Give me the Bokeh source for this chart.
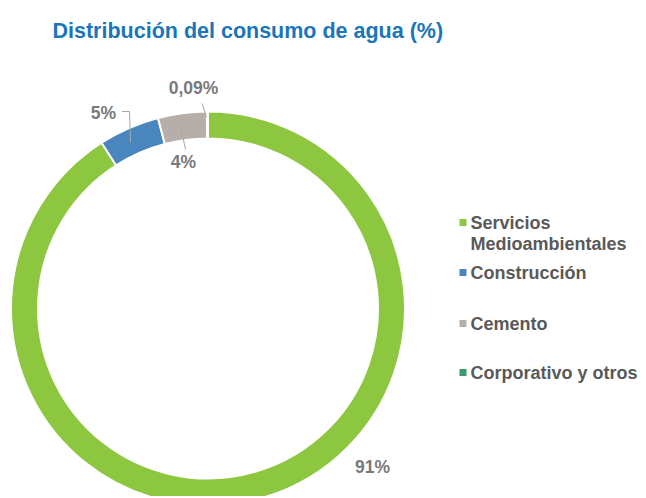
import numpy as np
from bokeh.plotting import figure
from bokeh.models import ColumnDataSource, Range1d
from bokeh.core.properties import value
from bokeh.embed import file_html
from bokeh.resources import INLINE

# ---- data ----
categories = ["Servicios Medioambientales", "Construcción", "Cemento", "Corporativo y otros"]
values = [91, 5, 4, 0.09]
colors = ["#8dc63f", "#4a86be", "#b6aea8", "#3c9a6c"]
pct_labels = ["91%", "5%", "4%", "0,09%"]
legend_lines = [["Servicios", "Medioambientales"], ["Construcción"], ["Cemento"], ["Corporativo y otros"]]
title_text = "Distribución del consumo de agua (%)"

# ---- layout helpers (screen px -> data) ----
W, H = 640, 496
def sx(x):
    return x
def sy(y):
    return H - y

FONT = value("Liberation Sans")

p = figure(width=W, height=H, x_range=Range1d(0, W), y_range=Range1d(0, H),
           output_backend="svg", toolbar_location=None, min_border=0)
p.axis.visible = False
p.grid.visible = False
p.outline_line_color = None
p.background_fill_color = "white"

# donut
v = np.array(values, dtype=float)
frac = v / v.sum()
cum = np.concatenate([[0.0], np.cumsum(frac)])
start = np.pi / 2 - cum[1:] * 2 * np.pi
end = np.pi / 2 - cum[:-1] * 2 * np.pi
src = ColumnDataSource(dict(start=start, end=end, color=colors, cat=categories))
cx, cy = sx(207.5), sy(308)
p.annular_wedge(x=cx, y=cy, inner_radius=170, outer_radius=197,
                inner_radius_units="screen", outer_radius_units="screen",
                start_angle="start", end_angle="end", fill_color="color",
                line_color="white", line_width=2, source=src)

# leader lines
lead_col = "#a6a6a6"
p.line([sx(201.7), sx(206)], [sy(103), sy(117)], line_color=lead_col, line_width=1)
p.line([sx(121.5), sx(129), sx(130)], [sy(111), sy(111), sy(142)], line_color=lead_col, line_width=1)
p.line([sx(185), sx(180)], [sy(149), sy(125)], line_color=lead_col, line_width=1)

# data labels
lab_pos = [(372, 466), (103, 112), (183, 161), (193, 87)]
p.text(x=[sx(a) for a, b in lab_pos], y=[sy(b) for a, b in lab_pos], text=pct_labels,
       text_font=FONT, text_font_style="bold", text_font_size="17.5px",
       text_color="#7a7a7a", text_align="center", text_baseline="middle")

# title
p.text(x=[sx(52)], y=[sy(30)], text=[title_text], text_font=FONT, text_font_style="bold",
       text_font_size="21.5px", text_color="#1a75b9", text_align="left", text_baseline="middle")

# legend
leg_y = [222, 272, 323, 372]
p.scatter(x=[sx(462.5)] * 4, y=[sy(y) for y in leg_y], marker="square", size=7,
          fill_color=colors, line_color=None)
tx, ty, tt = [], [], []
for lines, y in zip(legend_lines, leg_y):
    for i, t in enumerate(lines):
        tx.append(sx(470)); ty.append(sy(y + 21 * i)); tt.append(t)
p.text(x=tx, y=ty, text=tt, text_font=FONT, text_font_style="bold", text_font_size="18px",
       text_color="#595959", text_align="left", text_baseline="middle")

open("out.html", "w").write(file_html(p, INLINE))
